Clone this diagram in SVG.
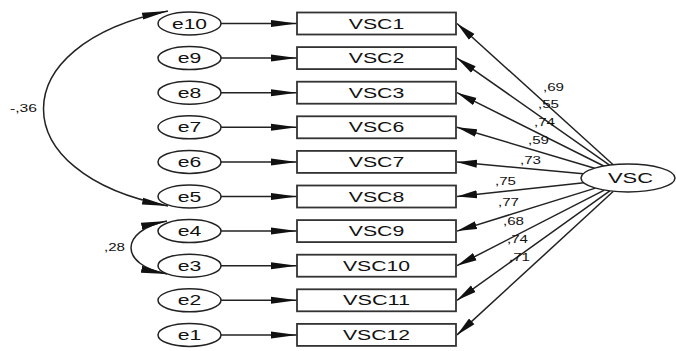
<svg xmlns="http://www.w3.org/2000/svg" width="676" height="351" viewBox="0 0 676 351">
<style>
text{font-family:"Liberation Sans",Arial,sans-serif;fill:#111}
.nt{font-size:14px;text-anchor:middle}
.lb{font-size:10px}
.el{fill:#fff;stroke:#222;stroke-width:1.5}
.rc{fill:#fff;stroke:#333;stroke-width:1.8}
.cn{fill:none;stroke:#222;stroke-width:1.5}
.h{marker-end:url(#ah)}
.d{marker-end:url(#ad)}
.cv{marker-start:url(#ah);marker-end:url(#ah)}
</style>
<defs>
<marker id="ah" markerUnits="userSpaceOnUse" markerWidth="26" markerHeight="8" refX="26" refY="4" orient="auto-start-reverse" viewBox="0 0 26 8"><path d="M0,0.5 L26,4 L0,7.5 Z" fill="#111"/></marker>
<marker id="ad" markerUnits="userSpaceOnUse" markerWidth="20" markerHeight="9" refX="20" refY="4.5" orient="auto" viewBox="0 0 20 9"><path d="M0,0.5 L20,4.5 L0,8.5 Z" fill="#111"/></marker>
</defs>
<g id="connectors">
<line class="cn h" x1="221" y1="23.5" x2="297" y2="23.5"/>
<line class="cn h" x1="221" y1="58.1" x2="297" y2="58.1"/>
<line class="cn h" x1="221" y1="92.7" x2="297" y2="92.7"/>
<line class="cn h" x1="221" y1="127.3" x2="297" y2="127.3"/>
<line class="cn h" x1="221" y1="161.9" x2="297" y2="161.9"/>
<line class="cn h" x1="221" y1="196.5" x2="297" y2="196.5"/>
<line class="cn h" x1="221" y1="231.1" x2="297" y2="231.1"/>
<line class="cn h" x1="221" y1="265.7" x2="297" y2="265.7"/>
<line class="cn h" x1="221" y1="300.3" x2="297" y2="300.3"/>
<line class="cn h" x1="221" y1="334.9" x2="297" y2="334.9"/>
<line class="cn d" x1="613.2" y1="164.7" x2="457" y2="23.5"/>
<line class="cn d" x1="609.5" y1="165.1" x2="457" y2="58.1"/>
<line class="cn d" x1="603.8" y1="166" x2="457" y2="92.7"/>
<line class="cn d" x1="594.6" y1="168.2" x2="457" y2="127.3"/>
<line class="cn d" x1="583.2" y1="173.8" x2="457" y2="161.9"/>
<line class="cn d" x1="583.8" y1="182.8" x2="457" y2="196.5"/>
<line class="cn d" x1="595.4" y1="188.1" x2="457" y2="231.1"/>
<line class="cn d" x1="604.3" y1="190.1" x2="457" y2="265.7"/>
<line class="cn d" x1="609.8" y1="190.9" x2="457" y2="300.3"/>
<line class="cn d" x1="613.4" y1="191.3" x2="457" y2="334.9"/>
<path class="cn cv" d="M168,11 C2,44 2,174 168,206"/>
<path class="cn cv" d="M167,221 C119,230.6 119,265 167,274"/>
<text class="lb" x="10" y="112" textLength="27" lengthAdjust="spacingAndGlyphs">-,36</text>
<text class="lb" x="104" y="251" textLength="21" lengthAdjust="spacingAndGlyphs">,28</text>
<text class="lb" x="543" y="90.5" textLength="21" lengthAdjust="spacingAndGlyphs">,69</text>
<text class="lb" x="538" y="108" textLength="21" lengthAdjust="spacingAndGlyphs">,55</text>
<text class="lb" x="534" y="126" textLength="21" lengthAdjust="spacingAndGlyphs">,74</text>
<text class="lb" x="528" y="144" textLength="21" lengthAdjust="spacingAndGlyphs">,59</text>
<text class="lb" x="520" y="164" textLength="21" lengthAdjust="spacingAndGlyphs">,73</text>
<text class="lb" x="495" y="185" textLength="21" lengthAdjust="spacingAndGlyphs">,75</text>
<text class="lb" x="498" y="206" textLength="21" lengthAdjust="spacingAndGlyphs">,77</text>
<text class="lb" x="503" y="224.5" textLength="21" lengthAdjust="spacingAndGlyphs">,68</text>
<text class="lb" x="507" y="243" textLength="21" lengthAdjust="spacingAndGlyphs">,74</text>
<text class="lb" x="509" y="261" textLength="21" lengthAdjust="spacingAndGlyphs">,71</text>
</g>
<g id="e10"><ellipse class="el" cx="189.5" cy="23.5" rx="31.5" ry="11.5"/><text class="nt" x="189.5" y="28.5" textLength="35" lengthAdjust="spacingAndGlyphs">e10</text></g>
<g id="e9"><ellipse class="el" cx="189.5" cy="58.1" rx="31.5" ry="11.5"/><text class="nt" x="189.5" y="63.1" textLength="23.5" lengthAdjust="spacingAndGlyphs">e9</text></g>
<g id="e8"><ellipse class="el" cx="189.5" cy="92.7" rx="31.5" ry="11.5"/><text class="nt" x="189.5" y="97.7" textLength="23.5" lengthAdjust="spacingAndGlyphs">e8</text></g>
<g id="e7"><ellipse class="el" cx="189.5" cy="127.3" rx="31.5" ry="11.5"/><text class="nt" x="189.5" y="132.3" textLength="23.5" lengthAdjust="spacingAndGlyphs">e7</text></g>
<g id="e6"><ellipse class="el" cx="189.5" cy="161.9" rx="31.5" ry="11.5"/><text class="nt" x="189.5" y="166.9" textLength="23.5" lengthAdjust="spacingAndGlyphs">e6</text></g>
<g id="e5"><ellipse class="el" cx="189.5" cy="196.5" rx="31.5" ry="11.5"/><text class="nt" x="189.5" y="201.5" textLength="23.5" lengthAdjust="spacingAndGlyphs">e5</text></g>
<g id="e4"><ellipse class="el" cx="189.5" cy="231.1" rx="31.5" ry="11.5"/><text class="nt" x="189.5" y="236.1" textLength="23.5" lengthAdjust="spacingAndGlyphs">e4</text></g>
<g id="e3"><ellipse class="el" cx="189.5" cy="265.7" rx="31.5" ry="11.5"/><text class="nt" x="189.5" y="270.7" textLength="23.5" lengthAdjust="spacingAndGlyphs">e3</text></g>
<g id="e2"><ellipse class="el" cx="189.5" cy="300.3" rx="31.5" ry="11.5"/><text class="nt" x="189.5" y="305.3" textLength="23.5" lengthAdjust="spacingAndGlyphs">e2</text></g>
<g id="e1"><ellipse class="el" cx="189.5" cy="334.9" rx="31.5" ry="11.5"/><text class="nt" x="189.5" y="339.9" textLength="23.5" lengthAdjust="spacingAndGlyphs">e1</text></g>
<g id="VSC1"><rect class="rc" x="297" y="12.5" width="159" height="22"/><text class="nt" x="376.5" y="28.5" textLength="55.5" lengthAdjust="spacingAndGlyphs">VSC1</text></g>
<g id="VSC2"><rect class="rc" x="297" y="47.1" width="159" height="22"/><text class="nt" x="376.5" y="63.1" textLength="55.5" lengthAdjust="spacingAndGlyphs">VSC2</text></g>
<g id="VSC3"><rect class="rc" x="297" y="81.7" width="159" height="22"/><text class="nt" x="376.5" y="97.7" textLength="55.5" lengthAdjust="spacingAndGlyphs">VSC3</text></g>
<g id="VSC6"><rect class="rc" x="297" y="116.3" width="159" height="22"/><text class="nt" x="376.5" y="132.3" textLength="55.5" lengthAdjust="spacingAndGlyphs">VSC6</text></g>
<g id="VSC7"><rect class="rc" x="297" y="150.9" width="159" height="22"/><text class="nt" x="376.5" y="166.9" textLength="55.5" lengthAdjust="spacingAndGlyphs">VSC7</text></g>
<g id="VSC8"><rect class="rc" x="297" y="185.5" width="159" height="22"/><text class="nt" x="376.5" y="201.5" textLength="55.5" lengthAdjust="spacingAndGlyphs">VSC8</text></g>
<g id="VSC9"><rect class="rc" x="297" y="220.1" width="159" height="22"/><text class="nt" x="376.5" y="236.1" textLength="55.5" lengthAdjust="spacingAndGlyphs">VSC9</text></g>
<g id="VSC10"><rect class="rc" x="297" y="254.7" width="159" height="22"/><text class="nt" x="376.5" y="270.7" textLength="67" lengthAdjust="spacingAndGlyphs">VSC10</text></g>
<g id="VSC11"><rect class="rc" x="297" y="289.3" width="159" height="22"/><text class="nt" x="376.5" y="305.3" textLength="67" lengthAdjust="spacingAndGlyphs">VSC11</text></g>
<g id="VSC12"><rect class="rc" x="297" y="323.9" width="159" height="22"/><text class="nt" x="376.5" y="339.9" textLength="67" lengthAdjust="spacingAndGlyphs">VSC12</text></g>
<g id="VSC"><ellipse class="el" cx="628" cy="178" rx="47" ry="14"/><text class="nt" x="630.5" y="183" textLength="45" lengthAdjust="spacingAndGlyphs">VSC</text></g>
</svg>
